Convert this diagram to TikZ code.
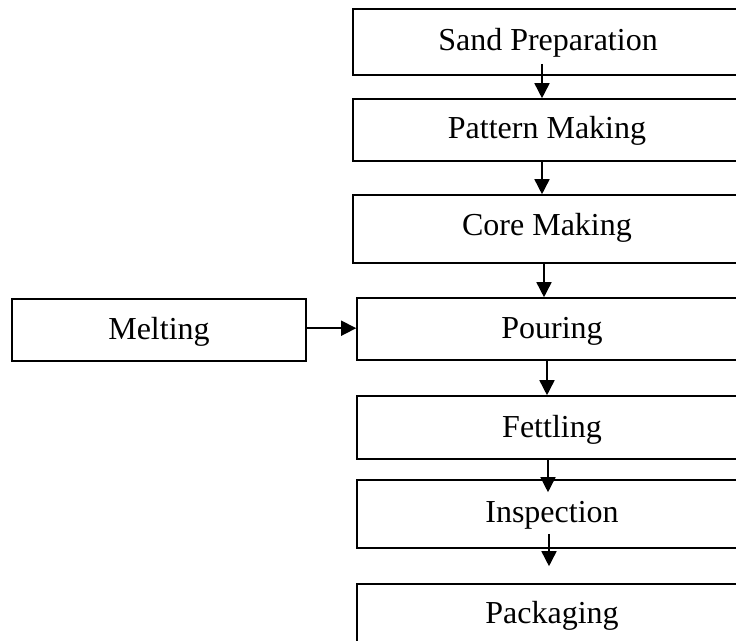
\documentclass[tikz,border=0pt]{standalone}
\usepackage{fontspec}
\setmainfont{Liberation Serif}
\usetikzlibrary{arrows.meta,calc}
\begin{document}
\begin{tikzpicture}[x=1pt,y=-1pt,
  box/.style={draw=black,line width=1.6pt,rectangle,minimum width=390pt,inner sep=0pt},
  txt/.style={anchor=base,inner sep=0pt,font=\fontsize{32}{38}\selectfont},
  arr/.style={line width=1.6pt,-{Triangle[length=15pt,width=15pt]}}]
\useasboundingbox (0,0) rectangle (736,640);
\clip (0,0) rectangle (736,640);
\fill[white] (0,0) rectangle (736,640);
% boxes
\node[box,minimum height=66pt] (sand) at (548,42) {};
\node[box,minimum height=62pt] (pattern) at (548,130) {};
\node[box,minimum height=68pt] (core) at (548,229) {};
\node[box,minimum height=62pt] (pour) at (552,329) {};
\node[box,minimum height=63pt] (fett) at (552,427.5) {};
\node[box,minimum height=68pt] (insp) at (552,514) {};
\node[box,minimum height=66pt] (pack) at (552,617) {};
\node[box,minimum width=294pt,minimum height=62pt] (melt) at (159,330) {};
% texts
\node[txt] (tsand) at (548,50) {Sand Preparation};
\node[txt] (tpattern) at (547,138) {Pattern Making};
\node[txt] (tcore) at (547,235) {Core Making};
\node[txt] (tpour) at (552,338) {Pouring};
\node[txt] (tfett) at (552,437) {Fettling};
\node[txt] (tinsp) at (552,522) {Inspection};
\node[txt] (tpack) at (552,623) {Packaging};
\node[txt] (tmelt) at (159,339) {Melting};
% connectors
\coordinate (mout) at ($(melt.east)+(0,-1.8)$);
\draw[arr] ($(sand.south)+(-6,-12)$) -- ($(pattern.north)+(-6,0)$);
\draw[arr] ($(pattern.south)+(-6,0)$) -- ($(core.north)+(-6,0)$);
\draw[arr] ($(core.south)+(-4,0)$) -- ($(pour.north)+(-8,0)$);
\draw[arr] ($(pour.south)+(-5,0)$) -- ($(fett.north)+(-5,0)$);
\draw[arr] ($(fett.south)+(-4,0)$) -- ($(insp.north)+(-4,13)$);
\draw[arr] ($(insp.south)+(-3,-15)$) -- ($(pack.north)+(-3,-17)$);
\draw[arr] (mout) -- (mout -| pour.west);
\end{tikzpicture}
\end{document}
